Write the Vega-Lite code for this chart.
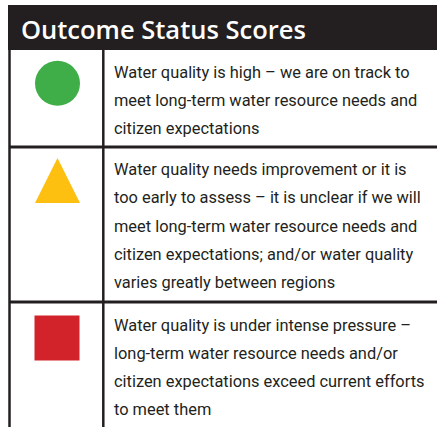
{
  "$schema": "https://vega.github.io/schema/vega-lite/v6.json",
  "width": 437,
  "height": 427,
  "padding": 0,
  "autosize": {"type": "none"},
  "background": "white",
  "config": {"view": {"stroke": null}},
  "datasets": {
    "header": [{"x1": 8, "x2": 437, "y1": 5, "y2": 50}],
    "title": [{"x": 21, "y": 39, "t": "Outcome Status Scores"}],
    "hlines": [
      {"x1": 9, "x2": 437, "y": 147},
      {"x1": 9, "x2": 437, "y": 302}
    ],
    "vlines": [
      {"x": 9.5, "y1": 50, "y2": 427},
      {"x": 103.3, "y1": 50, "y2": 427}
    ],
    "symbols": [
      {"x": 57.5, "y": 83.3, "status": "high"},
      {"x": 57.5, "y": 180.5, "status": "improve"},
      {"x": 57, "y": 338, "status": "pressure"}
    ],
    "lines": [
      {"x": 114, "y": 77.7, "t": "Water quality is high – we are on track to"},
      {"x": 114, "y": 106, "t": "meet long-term water resource needs and"},
      {"x": 114, "y": 134, "t": "citizen expectations"},
      {"x": 114, "y": 175, "t": "Water quality needs improvement or it is"},
      {"x": 114, "y": 203.3, "t": "too early to assess – it is unclear if we will"},
      {"x": 114, "y": 231.6, "t": "meet long-term water resource needs and"},
      {"x": 114, "y": 259.9, "t": "citizen expectations; and/or water quality"},
      {"x": 114, "y": 288.2, "t": "varies greatly between regions"},
      {"x": 114, "y": 330.5, "t": "Water quality is under intense pressure –"},
      {"x": 114, "y": 358.5, "t": "long-term water resource needs and/or"},
      {"x": 114, "y": 386.5, "t": "citizen expectations exceed current efforts"},
      {"x": 114, "y": 415, "t": "to meet them"}
    ]
  },
  "layer": [
    {
      "data": {"name": "header"},
      "mark": {"type": "rect", "color": "#231f20"},
      "encoding": {
        "x": {"field": "x1", "type": "quantitative", "scale": {"domain": [0, 437], "nice": false, "zero": false}, "axis": null},
        "x2": {"field": "x2"},
        "y": {"field": "y1", "type": "quantitative", "scale": {"domain": [0, 427], "nice": false, "zero": false, "reverse": true}, "axis": null},
        "y2": {"field": "y2"}
      }
    },
    {
      "data": {"name": "title"},
      "mark": {"type": "text", "align": "left", "baseline": "alphabetic", "font": "Open Sans", "fontWeight": 600, "fontSize": 25.5, "color": "white"},
      "encoding": {
        "x": {"field": "x", "type": "quantitative"},
        "y": {"field": "y", "type": "quantitative"},
        "text": {"field": "t", "type": "nominal"}
      }
    },
    {
      "data": {"name": "hlines"},
      "mark": {"type": "rule", "color": "#231f20", "strokeWidth": 3},
      "encoding": {
        "x": {"field": "x1", "type": "quantitative"},
        "x2": {"field": "x2"},
        "y": {"field": "y", "type": "quantitative"}
      }
    },
    {
      "data": {"name": "vlines"},
      "mark": {"type": "rule", "color": "#231f20", "strokeWidth": 2.5},
      "encoding": {
        "x": {"field": "x", "type": "quantitative"},
        "y": {"field": "y1", "type": "quantitative"},
        "y2": {"field": "y2"}
      }
    },
    {
      "data": {"name": "symbols"},
      "mark": {"type": "point", "filled": true, "opacity": 1, "size": 2025},
      "encoding": {
        "x": {"field": "x", "type": "quantitative"},
        "y": {"field": "y", "type": "quantitative"},
        "shape": {"field": "status", "type": "nominal", "scale": {"domain": ["high", "improve", "pressure"], "range": ["circle", "M-1,1L1,1L0,-1Z", "square"]}, "legend": null},
        "color": {"field": "status", "type": "nominal", "scale": {"domain": ["high", "improve", "pressure"], "range": ["#3fae49", "#fdc010", "#d2232a"]}, "legend": null}
      }
    },
    {
      "data": {"name": "lines"},
      "mark": {"type": "text", "align": "left", "baseline": "alphabetic", "font": "Roboto", "fontSize": 16.4, "color": "#231f20"},
      "encoding": {
        "x": {"field": "x", "type": "quantitative"},
        "y": {"field": "y", "type": "quantitative"},
        "text": {"field": "t", "type": "nominal"}
      }
    }
  ]
}
